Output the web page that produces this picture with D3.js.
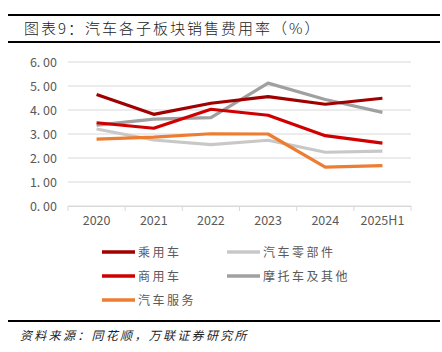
<!DOCTYPE html>
<html><head><meta charset="utf-8">
<script src="https://cdn.jsdelivr.net/npm/d3@7/dist/d3.min.js"></script>
<style>body{margin:0;background:#fff}svg{display:block}</style>
</head><body>
<script>
const categories = ["2020","2021","2022","2023","2024","2025H1"];
const seriesNames = ["乘用车","商用车","汽车服务","汽车零部件","摩托车及其他"];
const passenger = [4.65,3.82,4.28,4.56,4.24,4.49];
const commercial = [3.47,3.24,4.03,3.78,2.93,2.62];
const service = [2.79,2.87,3.01,3.00,1.62,1.68];
const parts = [3.21,2.75,2.56,2.74,2.24,2.29];
const moto = [3.37,3.62,3.68,5.12,4.44,3.90];
const yTicks = [0,1,2,3,4,5,6];
const colors = ["#A00000","#D00000","#ED7D31","#C8C8C8","#A0A0A0"];

const W=442,H=352;
const svg=d3.select("body").append("svg").attr("width",W).attr("height",H);
const font="'Noto Sans CJK SC','Noto Sans',sans-serif";

// header lines & title
svg.append("line").attr("x1",8).attr("x2",440).attr("y1",15).attr("y2",15).attr("stroke","#000").attr("stroke-width",2);
svg.append("line").attr("x1",8).attr("x2",440).attr("y1",42).attr("y2",42).attr("stroke","#000").attr("stroke-width",2);
svg.append("text").attr("x",24).attr("y",34).attr("font-family",font).attr("font-size",15).attr("fill","#222")
  .attr("font-weight",300).attr("letter-spacing",2)
  .text("图表9：汽车各子板块销售费用率（%）");

const x=d3.scaleBand().domain(categories).range([68,411]);
const y=d3.scaleLinear().domain([0,6]).range([206,62]);

// gridlines
svg.append("g").selectAll("line").data(yTicks).join("line")
  .attr("x1",68).attr("x2",411).attr("y1",d=>y(d)).attr("y2",d=>y(d))
  .attr("stroke","#D9D9D9").attr("stroke-width",1);

// y labels
svg.append("g").selectAll("text").data(yTicks).join("text")
  .attr("x",57).attr("y",d=>y(d)+4.5).attr("text-anchor","end")
  .attr("font-family",font).attr("font-size",12.5).attr("fill","#595959")
  .text(d=>d3.format(".2f")(d).replace(".",". "));

// x axis
const xAxis=d3.axisBottom(x).tickSize(0).tickPadding(10);
const gx=svg.append("g").attr("transform","translate(0,206)").call(xAxis);
gx.select(".domain").attr("stroke","#D9D9D9");
gx.selectAll("text").attr("font-family",font).attr("font-size",12.5).attr("fill","#595959");
// boundary ticks
const bounds=categories.map(c=>x(c)).concat([x.range()[1]]);
svg.append("g").selectAll("line").data(bounds).join("line")
  .attr("x1",d=>d).attr("x2",d=>d).attr("y1",206).attr("y2",211)
  .attr("stroke","#D9D9D9");

const data=[passenger,commercial,service,parts,moto];
const drawOrder=[3,2,4,1,0];
const line=d3.line().x((d,i)=>x(categories[i])+x.bandwidth()/2).y(d=>y(d));
drawOrder.forEach(k=>{
  svg.append("path").datum(data[k]).attr("d",line).attr("fill","none")
    .attr("stroke",colors[k]).attr("stroke-width",3.2).attr("stroke-linejoin","round");
});

// legend
const legendPos=[[102,252],[102,276],[102,300],[227,252],[227,276]];
seriesNames.forEach((n,k)=>{
  const [lx,ly]=legendPos[k];
  svg.append("line").attr("x1",lx).attr("x2",lx+33).attr("y1",ly).attr("y2",ly)
    .attr("stroke",colors[k]).attr("stroke-width",3.5);
  svg.append("text").attr("x",lx+36).attr("y",ly+4.5).attr("font-family",font)
    .attr("font-size",12).attr("letter-spacing",2.5).attr("fill","#595959").text(n);
});

svg.append("line").attr("x1",8).attr("x2",440).attr("y1",321).attr("y2",321).attr("stroke","#000").attr("stroke-width",2);
svg.append("text").attr("x",20).attr("y",340).attr("font-family",font).attr("font-size",12)
  .attr("font-style","italic").attr("letter-spacing",2.3).attr("fill","#222")
  .text("资料来源：同花顺，万联证券研究所");
</script>
</body></html>
